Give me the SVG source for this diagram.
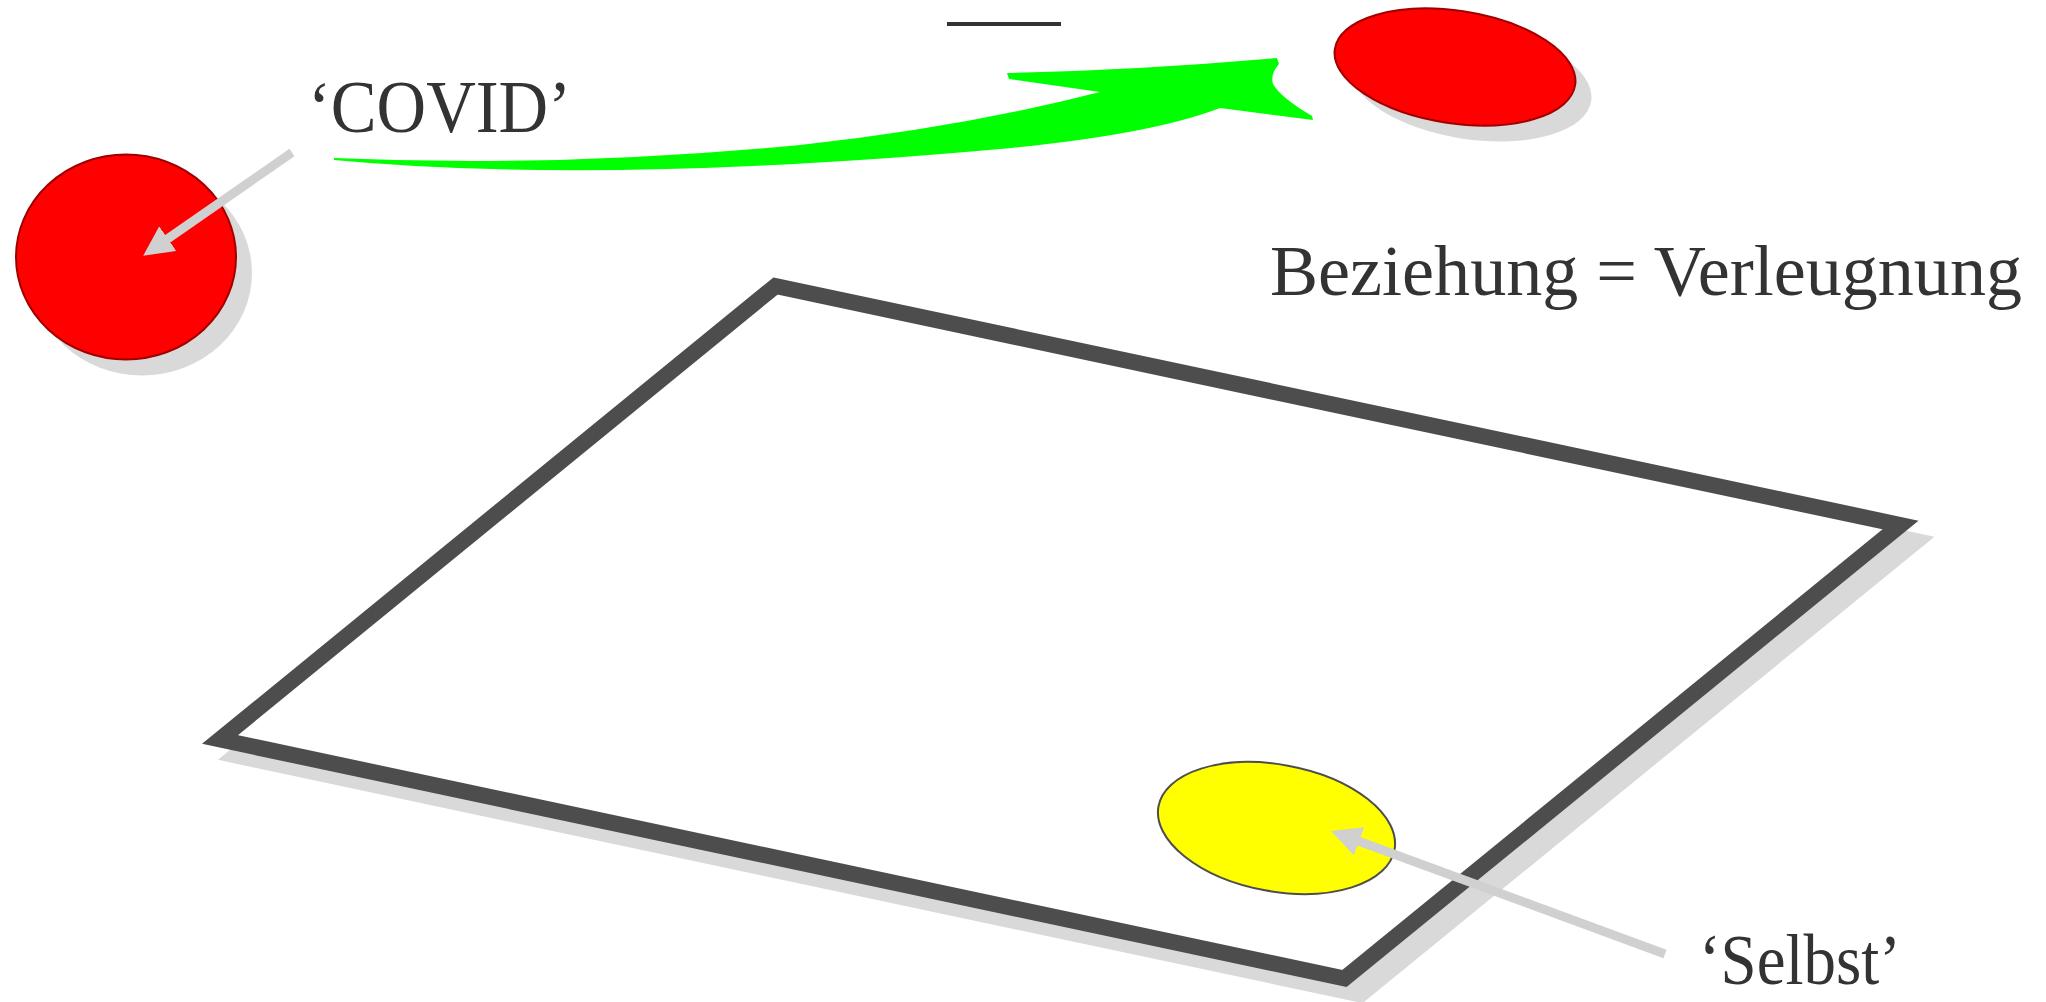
<svg xmlns="http://www.w3.org/2000/svg" width="2046" height="1002" viewBox="0 0 2046 1002">
<style>
.shadow{fill:#d9d9d9}
.label{font-family:"Liberation Serif","Times New Roman",serif;fill:#333333}
.red{fill:#ff0000;stroke:#a00000;stroke-width:2}
.pointer{stroke:#d0d0d0;stroke-width:9;fill:none}
</style>
<defs>
<marker id="head" viewBox="0 0 30 30" refX="1" refY="15" markerWidth="30" markerHeight="30" markerUnits="userSpaceOnUse" orient="auto"><path d="M0,0 L30,15 L0,30 Z" fill="#d0d0d0"/></marker>
</defs>
<rect width="2046" height="1002" fill="#ffffff"/>
<g id="plane">
<polygon class="shadow" points="775.5,286 1900.5,525 1344.5,978.5 220,739.5" transform="translate(16,16)" stroke="#d9d9d9" stroke-width="16"/>
<polygon points="775.5,286 1900.5,525 1344.5,978.5 220,739.5" fill="#ffffff" stroke="#4d4d4d" stroke-width="16"/>
</g>
<g id="covid-node">
<ellipse class="shadow" cx="142" cy="273" rx="110" ry="102.5"/>
<ellipse class="red" cx="126" cy="257" rx="110" ry="102.5"/>
</g>
<g id="target-node">
<ellipse class="shadow" cx="1455" cy="67" rx="121.5" ry="56.3" transform="translate(16,16) rotate(8.5 1455 67)"/>
<ellipse class="red" cx="1455" cy="67" rx="121.5" ry="56.3" transform="rotate(8.5 1455 67)"/>
</g>
<g id="selbst-node">
<ellipse cx="1276.5" cy="828" rx="120" ry="63.4" transform="rotate(10.4 1276.5 828)" fill="#ffff00" stroke="#4d4d4d" stroke-width="2"/>
</g>
<g id="bar">
<line x1="947" y1="24" x2="1061" y2="24" stroke="#333333" stroke-width="4"/>
</g>
<g id="connectors">
<path d="M334,158 Q560,168 800,145 Q960,128 1100,92 L1009,79 L1007,73 Q1140,70 1277,58 L1279,64 Q1270,74 1273,84 Q1280,97 1312,116 L1313,120 L1220,108 Q1150,135 1000,149 Q600,185 334,160 Z" fill="#00ff00"/>
<line class="pointer" x1="292" y1="152.5" x2="167" y2="239.2" marker-end="url(#head)"/>
<line class="pointer" x1="1665" y1="954" x2="1358.2" y2="841" marker-end="url(#head)"/>
</g>
<g id="labels">
<text class="label" x="308" y="132" font-size="73" textLength="263" lengthAdjust="spacingAndGlyphs">‘COVID’</text>
<text class="label" x="1270" y="295" font-size="71" textLength="752" lengthAdjust="spacingAndGlyphs">Beziehung = Verleugnung</text>
<text class="label" x="1699" y="984" font-size="72" textLength="202" lengthAdjust="spacingAndGlyphs">‘Selbst’</text>
</g>
</svg>
